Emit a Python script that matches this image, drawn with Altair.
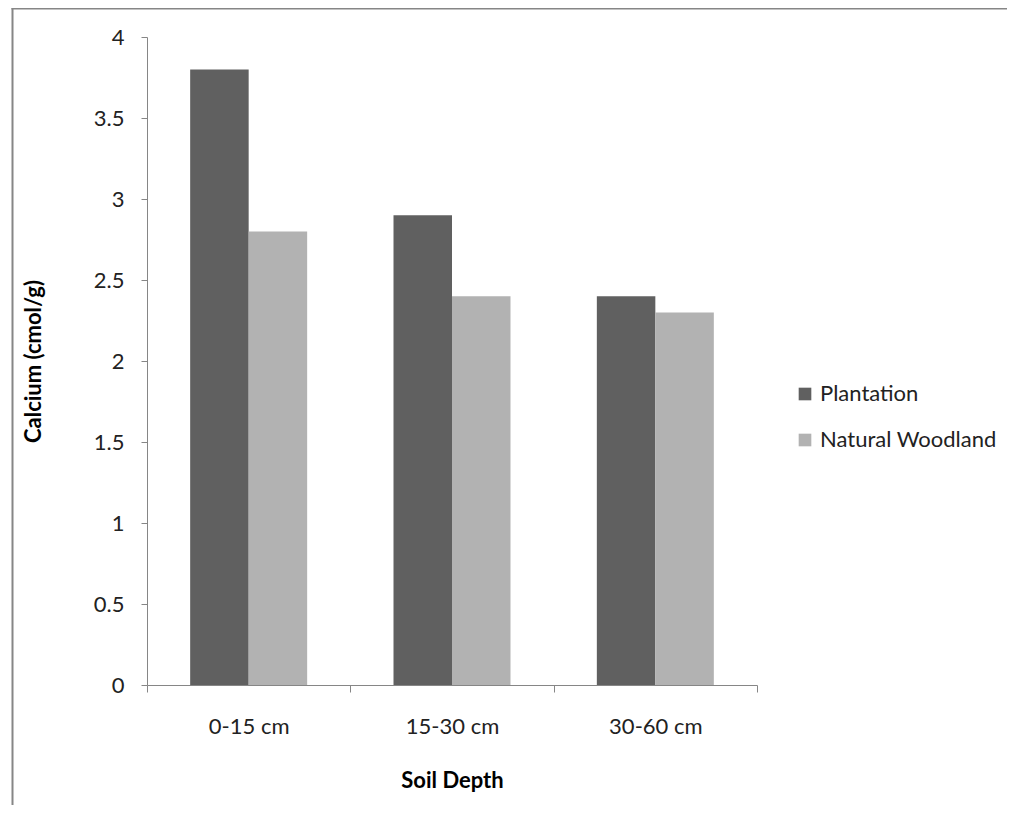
import altair as alt
import pandas as pd

depths = ["0-15 cm", "15-30 cm", "30-60 cm"]
series = ["Plantation", "Natural Woodland"]
plantation = [3.8, 2.9, 2.4]
woodland = [2.8, 2.4, 2.3]
colors = ["#606060", "#b2b2b2"]

rows = []
for d, p, w in zip(depths, plantation, woodland):
    rows.append({"depth": d, "series": series[0], "value": p})
    rows.append({"depth": d, "series": series[1], "value": w})
df = pd.DataFrame(rows)

FONT = "Lato"
AX = "#868686"

bars = alt.Chart(df).mark_bar().encode(
    x=alt.X("depth:N", sort=depths,
            scale=alt.Scale(paddingInner=0, paddingOuter=0),
            axis=alt.Axis(title="Soil Depth", labelAngle=0, tickBand="extent",
                          domainColor=AX, tickColor=AX, tickSize=7,
                          labelPadding=24, titlePadding=33)),
    xOffset=alt.XOffset("series:N", sort=series,
                        scale=alt.Scale(paddingInner=0, paddingOuter=0.738)),
    y=alt.Y("value:Q", scale=alt.Scale(domain=[0, 4]),
            axis=alt.Axis(title="Calcium (cmol/g)", values=[0, 0.5, 1, 1.5, 2, 2.5, 3, 3.5, 4],
                          format="~g", grid=False, domainColor=AX, tickColor=AX, tickSize=6,
                          labelPadding=17, titlePadding=48)),
    color=alt.Color("series:N", sort=series,
                    scale=alt.Scale(domain=series, range=colors),
                    legend=alt.Legend(title=None, orient="none", legendX=647, legendY=346,
                                      symbolType="square", symbolSize=160, labelLimit=0,
                                      symbolStrokeWidth=0, rowPadding=24, labelOffset=4)),
)

frame_left = alt.Chart(pd.DataFrame({"k": [0]})).mark_rect(color=AX).encode(
    x=alt.value(-135.5), x2=alt.value(-133.5), y=alt.value(-29.5), y2=alt.value(790)
)
frame_top = alt.Chart(pd.DataFrame({"k": [0]})).mark_rect(color=AX).encode(
    x=alt.value(-135.5), x2=alt.value(860), y=alt.value(-29.5), y2=alt.value(-27.5)
)

chart = alt.layer(bars, frame_left, frame_top).properties(
    width=610, height=648,
    autosize=alt.AutoSizeParams(type="none"),
    padding={"left": 139, "top": 29, "right": 250, "bottom": 120},
).configure_view(stroke=None).configure_axis(
    labelFont=FONT, titleFont=FONT, labelFontSize=22, titleFontSize=22,
    labelColor="#222222", titleColor="#000000", titleFontWeight="bold",
).configure_legend(
    labelFont=FONT, labelFontSize=22, labelColor="#222222",
)

chart.save("out.html", embed_options={"renderer": "svg", "actions": False})
